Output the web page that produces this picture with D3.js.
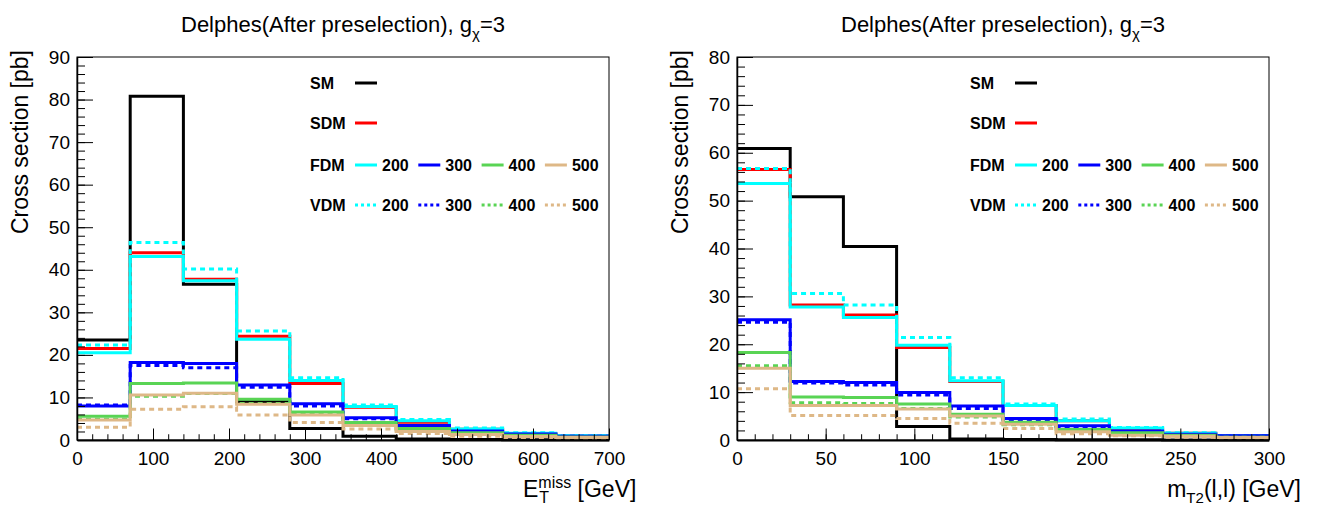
<!DOCTYPE html>
<html><head><meta charset="utf-8">
<script src="https://cdn.jsdelivr.net/npm/d3@7"></script>
<style>body{margin:0;background:#fff} svg{display:block} text{font-family:"Liberation Sans",Arial,Helvetica,sans-serif}</style>
</head><body><svg id="c" width="1320" height="512"></svg>
<script>
// ---------------- DATA ----------------
const metEdges = [0,70,140,210,280,350,420,490,560,630,700];
const mt2Edges = [0,30,60,90,120,150,180,210,240,270,300];

const met_SM     = [23.5, 80.8, 36.6, 9.0, 2.7, 0.9, 0.25, 0.1, 0.05, 0.03];
const met_SDM    = [21.5, 44.0, 37.8, 24.4, 13.3, 7.7, 4.2, 2.5, 1.5, 0.9];
const met_FDM200 = [20.5, 43.1, 37.4, 23.7, 14.0, 7.9, 4.5, 2.6, 1.6, 1.0];
const met_VDM200 = [22.3, 46.4, 40.2, 25.6, 14.6, 8.2, 4.8, 2.8, 1.7, 1.0];
const met_FDM300 = [8.0, 18.2, 18.0, 12.9, 8.5, 5.2, 3.4, 2.1, 1.4, 0.9];
const met_VDM300 = [8.2, 17.5, 17.0, 12.4, 8.0, 5.0, 3.3, 2.0, 1.3, 0.9];
const met_FDM400 = [5.6, 13.3, 13.4, 9.6, 6.6, 4.1, 2.7, 1.7, 1.1, 0.7];
const met_VDM400 = [4.9, 10.3, 10.9, 8.6, 6.0, 3.8, 2.5, 1.5, 1.0, 0.6];
const met_FDM500 = [4.7, 10.6, 11.0, 8.4, 5.9, 3.4, 2.0, 1.3, 0.8, 0.6];
const met_VDM500 = [3.0, 7.2, 7.8, 5.9, 4.1, 2.6, 1.5, 0.9, 0.6, 0.4];

const mt2_SM     = [60.9, 50.8, 40.4, 2.8, 0.2, 0.1, 0.05, 0.03, 0.02, 0.01];
const mt2_SDM    = [56.5, 28.2, 26.1, 19.3, 12.2, 7.2, 4.0, 2.3, 1.4, 0.9];
const mt2_FDM200 = [53.6, 27.8, 25.6, 19.8, 12.4, 7.2, 4.0, 2.5, 1.4, 0.9];
const mt2_VDM200 = [56.7, 30.6, 28.2, 21.4, 13.0, 7.5, 4.4, 2.6, 1.5, 0.9];
const mt2_FDM300 = [25.1, 12.2, 12.0, 9.9, 7.1, 4.5, 3.0, 1.9, 1.2, 0.9];
const mt2_VDM300 = [24.6, 11.9, 11.5, 9.4, 6.6, 4.3, 2.8, 1.8, 1.1, 0.8];
const mt2_FDM400 = [18.3, 9.0, 8.9, 7.5, 5.4, 3.7, 2.2, 1.5, 1.0, 0.6];
const mt2_VDM400 = [15.5, 7.8, 7.6, 6.6, 4.8, 3.2, 2.0, 1.3, 0.9, 0.6];
const mt2_FDM500 = [15.0, 7.2, 7.2, 6.5, 5.0, 3.3, 1.7, 1.0, 0.8, 0.5];
const mt2_VDM500 = [10.7, 5.1, 5.1, 4.5, 3.5, 2.4, 1.3, 0.9, 0.6, 0.4];

const seriesNames = ["SM","SDM","FDM200","VDM200","FDM300","VDM300","FDM400","VDM400","FDM500","VDM500"];
const legendMasses = ["200","300","400","500"];
const legendModels = ["SM","SDM","FDM","VDM"];
const metYTicks = [0,10,20,30,40,50,60,70,80,90];
const mt2YTicks = [0,10,20,30,40,50,60,70,80];
const metXTicks = [0,100,200,300,400,500,600,700];
const mt2XTicks = [0,50,100,150,200,250,300];
const titleMain = "Delphes(After preselection), g";

// ---------------- STYLE ----------------
const massColor = {"200":"#00ffff","300":"#0000ff","400":"#59d454","500":"#deb887"};
function styleOf(name){
  if(name==="SM") return {c:"#000000",dash:null};
  if(name==="SDM") return {c:"#ff0000",dash:null};
  const m = name.slice(3);
  return {c:massColor[m], dash: name.startsWith("VDM") ? "5,4" : null};
}

const svg = d3.select("#c");
svg.append("rect").attr("width",1320).attr("height",512).attr("fill","#fff");

const panels = [
  {off:0, edges:metEdges, xmax:700, ymax:90, yTicks:metYTicks, xTicks:metXTicks, xMinorStep:20, yMinorStep:2,
   data:{SM:met_SM,SDM:met_SDM,FDM200:met_FDM200,VDM200:met_VDM200,FDM300:met_FDM300,VDM300:met_VDM300,FDM400:met_FDM400,VDM400:met_VDM400,FDM500:met_FDM500,VDM500:met_VDM500},
   xtitle:"met", xtEnd:630},
  {off:660, edges:mt2Edges, xmax:300, ymax:80, yTicks:mt2YTicks, xTicks:mt2XTicks, xMinorStep:10, yMinorStep:2,
   data:{SM:mt2_SM,SDM:mt2_SDM,FDM200:mt2_FDM200,VDM200:mt2_VDM200,FDM300:mt2_FDM300,VDM300:mt2_VDM300,FDM400:mt2_FDM400,VDM400:mt2_VDM400,FDM500:mt2_FDM500,VDM500:mt2_VDM500},
   xtitle:"mt2", xtEnd:1301}
];

panels.forEach(p=>{
  const L = 77 + p.off, R = 609 + p.off, T = 57, B = 440;
  const x = d3.scaleLinear().domain([0,p.xmax]).range([L,R]);
  const y = d3.scaleLinear().domain([0,p.ymax]).range([B,T]);
  const g = svg.append("g");

  // histograms
  const line = d3.line().x(d=>x(d[0])).y(d=>y(d[1])).curve(d3.curveStepAfter);
  seriesNames.forEach(n=>{
    const v = p.data[n];
    const pts = v.map((val,i)=>[p.edges[i], val]);
    pts.push([p.edges[v.length], v[v.length-1]]);
    const s = styleOf(n);
    g.append("path").attr("d", line(pts)).attr("fill","none")
      .attr("stroke", s.c).attr("stroke-width",3)
      .attr("stroke-dasharray", s.dash);
  });

  // frame
  g.append("rect").attr("x",L).attr("y",T).attr("width",R-L).attr("height",B-T)
    .attr("fill","none").attr("stroke","#000").attr("stroke-width",1);

  // y axis
  const yMinor = d3.range(0, p.ymax+0.001, p.yMinorStep);
  g.append("g").attr("transform",`translate(${L},0)`)
    .call(d3.axisLeft(y).tickValues(yMinor).tickSize(-8).tickSizeOuter(0).tickFormat(""))
    .call(a=>a.select(".domain").remove());
  const ya = g.append("g").attr("transform",`translate(${L},0)`)
    .call(d3.axisLeft(y).tickValues(p.yTicks).tickSize(-16).tickSizeOuter(0).tickPadding(7).tickFormat(d3.format("d")));
  ya.select(".domain").attr("stroke-width",1.5);
  ya.selectAll("text").attr("font-size",19).attr("fill","#000").attr("font-family",'"Liberation Sans",Arial,sans-serif');

  // x axis
  const xMinor = d3.range(0, p.xmax+0.001, p.xMinorStep);
  g.append("g").attr("transform",`translate(0,${B})`)
    .call(d3.axisBottom(x).tickValues(xMinor).tickSize(-5.75).tickSizeOuter(0).tickFormat(""))
    .call(a=>a.select(".domain").remove());
  const xa = g.append("g").attr("transform",`translate(0,${B})`)
    .call(d3.axisBottom(x).tickValues(p.xTicks).tickSize(-11.5).tickSizeOuter(0).tickPadding(11.5).tickFormat(d3.format("d")));
  xa.select(".domain").attr("stroke-width",2);
  xa.selectAll("text").attr("font-size",19).attr("fill","#000").attr("font-family",'"Liberation Sans",Arial,sans-serif');

  // title
  const tt = g.append("text").attr("x",(L+R)/2).attr("y",32).attr("text-anchor","middle")
    .attr("font-size",22).attr("fill","#000");
  tt.append("tspan").text(titleMain);
  tt.append("tspan").attr("font-size",15).attr("dy",7).text("χ");
  tt.append("tspan").attr("dy",-7).text("=3");

  // y title
  g.append("text").attr("transform",`translate(${28+p.off},50) rotate(-90)`)
    .attr("text-anchor","end").attr("font-size",23).attr("fill","#000")
    .text("Cross section [pb]");

  // x title
  const xt = g.append("g");
  let cx = 0;
  if(p.xtitle==="met"){
    const e = xt.append("text").attr("x",0).attr("y",0).attr("font-size",23).text("E");
    cx = e.node().getComputedTextLength();
    const sup = xt.append("text").attr("x",cx).attr("y",-9).attr("font-size",16).text("miss");
    xt.append("text").attr("x",cx+1).attr("y",6).attr("font-size",16).text("T");
    cx += sup.node().getComputedTextLength();
    const r = xt.append("text").attr("x",cx).attr("y",0).attr("font-size",23).text(" [GeV]");
    cx += r.node().getComputedTextLength();
  } else {
    const m = xt.append("text").attr("x",0).attr("y",0).attr("font-size",23).text("m");
    cx = m.node().getComputedTextLength();
    const sub = xt.append("text").attr("x",cx).attr("y",6).attr("font-size",15).text("T2");
    cx += sub.node().getComputedTextLength();
    const r = xt.append("text").attr("x",cx).attr("y",0).attr("font-size",23).text("(l,l) [GeV]");
    cx += r.node().getComputedTextLength();
  }
  xt.selectAll("text").attr("fill","#000").style("white-space","pre").attr("xml:space","preserve");
  xt.attr("transform",`translate(${p.xtEnd-cx},497)`);

  // legend
  const rowY = [83,123,165,205];
  const lg = g.append("g");
  legendModels.forEach((mdl,i)=>{
    lg.append("text").attr("x",310+p.off).attr("y",rowY[i]+6).attr("font-size",16)
      .attr("font-weight","bold").attr("fill","#000").text(mdl);
    if(mdl==="SM"||mdl==="SDM"){
      const s = styleOf(mdl);
      lg.append("line").attr("x1",355+p.off).attr("x2",377+p.off).attr("y1",rowY[i]).attr("y2",rowY[i])
        .attr("stroke",s.c).attr("stroke-width",3);
    } else {
      legendMasses.forEach((ms,j)=>{
        const s = styleOf(mdl+ms);
        const lx = 355 + j*63.3 + p.off;
        lg.append("line").attr("x1",lx).attr("x2",lx+22).attr("y1",rowY[i]).attr("y2",rowY[i])
          .attr("stroke",s.c).attr("stroke-width",3).attr("stroke-dasharray", s.dash ? "3,3" : null);
        lg.append("text").attr("x",lx+27).attr("y",rowY[i]+6).attr("font-size",16)
          .attr("font-weight","bold").attr("fill","#000").text(ms);
      });
    }
  });
});
</script></body></html>
